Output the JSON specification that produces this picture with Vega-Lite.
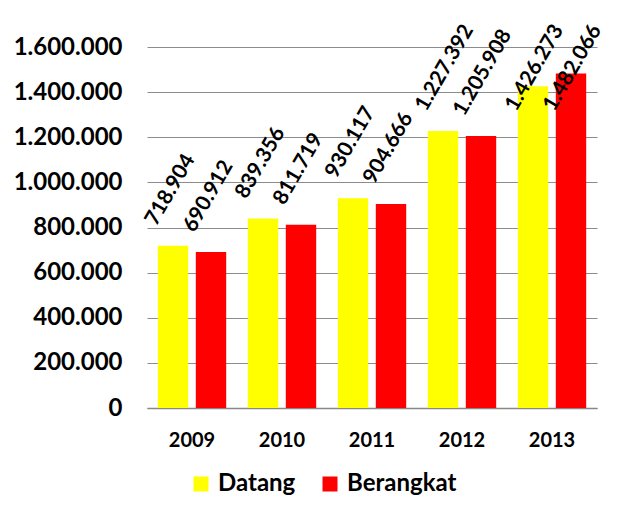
{
  "$schema": "https://vega.github.io/schema/vega-lite/v6.json",
  "width": 450,
  "height": 361,
  "autosize": {"type": "none"},
  "padding": {"left": 147, "top": 47, "right": 43, "bottom": 114},
  "background": "white",
  "config": {
    "locale": {"number": {"decimal": ",", "thousands": ".", "grouping": [3], "currency": ["Rp", ""]}},
    "font": "Lato",
    "view": {"stroke": null}
  },
  "data": {
    "values": [
      {"tahun": "2009", "jenis": "Datang", "nilai": 718904},
      {"tahun": "2009", "jenis": "Berangkat", "nilai": 690912},
      {"tahun": "2010", "jenis": "Datang", "nilai": 839356},
      {"tahun": "2010", "jenis": "Berangkat", "nilai": 811719},
      {"tahun": "2011", "jenis": "Datang", "nilai": 930117},
      {"tahun": "2011", "jenis": "Berangkat", "nilai": 904666},
      {"tahun": "2012", "jenis": "Datang", "nilai": 1227392},
      {"tahun": "2012", "jenis": "Berangkat", "nilai": 1205908},
      {"tahun": "2013", "jenis": "Datang", "nilai": 1426273},
      {"tahun": "2013", "jenis": "Berangkat", "nilai": 1482066}
    ]
  },
  "encoding": {
    "x": {
      "field": "tahun", "type": "nominal",
      "scale": {"paddingInner": 0.24, "paddingOuter": 0.12},
      "axis": {"title": null, "labelAngle": 0, "labelFontSize": 20, "labelFontWeight": "bold", "labelColor": "black", "labelPadding": 22, "ticks": false, "domainColor": "#888888", "domainWidth": 1.5}
    },
    "xOffset": {"field": "jenis", "type": "nominal", "sort": ["Datang", "Berangkat"], "scale": {"paddingInner": 0.2}},
    "y": {
      "field": "nilai", "type": "quantitative",
      "scale": {"domain": [0, 1600000]},
      "axis": {"title": null, "format": ",d", "tickCount": 8, "labelFontSize": 24, "labelFontWeight": "bold", "labelColor": "black", "labelPadding": 25, "ticks": false, "domain": false, "gridColor": "#8c8c8c", "gridWidth": 1}
    }
  },
  "layer": [
    {
      "mark": {"type": "bar"},
      "encoding": {
        "color": {
          "field": "jenis", "type": "nominal",
          "sort": ["Datang", "Berangkat"],
          "scale": {"domain": ["Datang", "Berangkat"], "range": ["#FFFF00", "#FF0000"]},
          "legend": {
            "title": null, "orient": "none", "direction": "horizontal",
            "legendX": 42, "legendY": 425,
            "symbolType": "square", "symbolSize": 225, "symbolStrokeWidth": 0,
            "labelFontSize": 24, "labelFontWeight": "bold", "labelColor": "black",
            "labelOffset": 5, "columnPadding": 22
          }
        }
      }
    },
    {
      "transform": [{"filter": "datum.tahun != '2013'"}],
      "mark": {"type": "text", "angle": -60, "align": "left", "baseline": "middle", "dx": 8, "dy": -30, "fontSize": 21, "fontWeight": "bold", "color": "black"},
      "encoding": {
        "text": {"field": "nilai", "type": "quantitative", "format": ",d"}
      }
    },
    {
      "transform": [{"filter": "datum.tahun == '2013'"}],
      "mark": {"type": "text", "angle": -60, "align": "left", "baseline": "middle", "dx": 8, "dy": -30, "fontSize": 21, "fontWeight": "bold", "color": "black"},
      "encoding": {
        "y": {"datum": 1227392, "type": "quantitative"},
        "text": {"field": "nilai", "type": "quantitative", "format": ",d"}
      }
    }
  ]
}
